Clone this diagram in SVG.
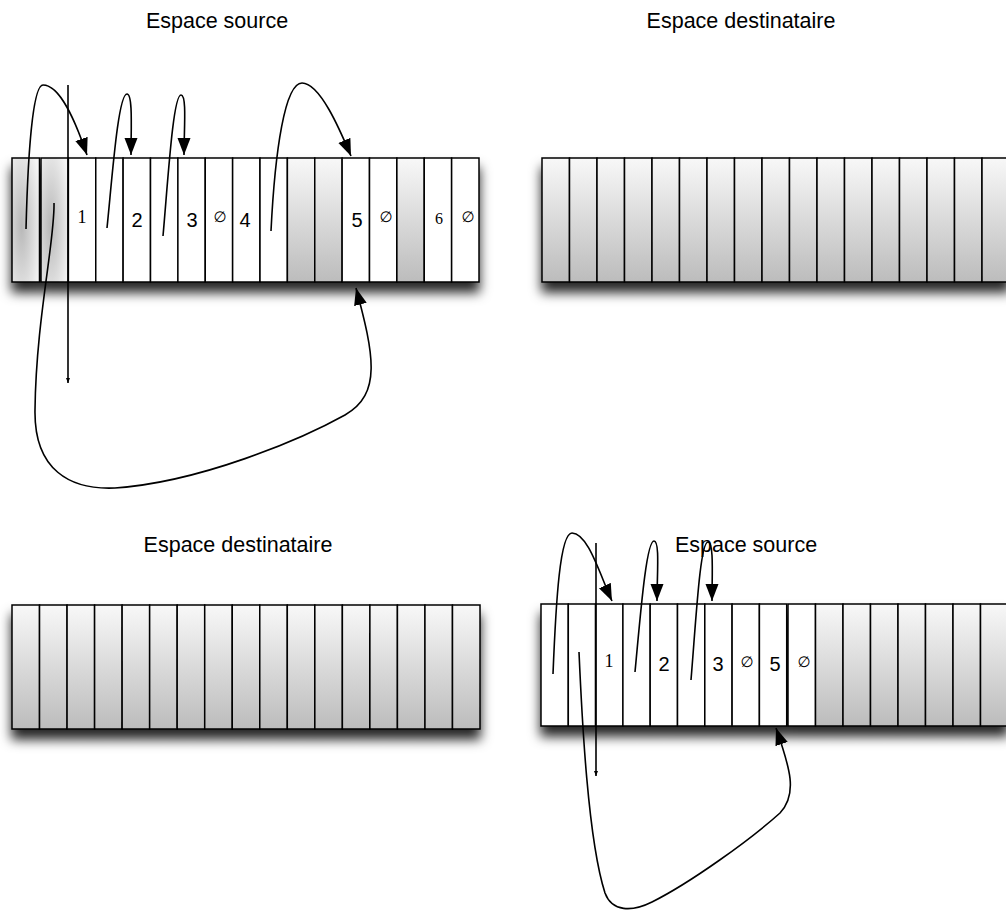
<svg xmlns="http://www.w3.org/2000/svg" width="1006" height="910" viewBox="0 0 1006 910">
<defs>
<style>
.cell{stroke:#000;stroke-width:1.5}
.w{fill:#fff}
.g{fill:url(#gr)}
.r{fill:url(#rad)}
.title{font-family:"Liberation Sans",Arial,sans-serif;font-size:21.5px;fill:#000;text-anchor:middle}
.num{font-family:"Liberation Sans",Arial,sans-serif;font-size:20px;fill:#000;text-anchor:middle}
.ser{font-family:"Liberation Serif","Times New Roman",serif;font-size:18px;fill:#000;text-anchor:middle}
.ser6{font-family:"Liberation Serif","Times New Roman",serif;font-size:16px;fill:#000;text-anchor:middle}
.emp{font-family:"DejaVu Sans",sans-serif;font-size:15px;fill:#000;text-anchor:middle}
.c{fill:none;stroke:#000;stroke-width:1.6}
</style>
<linearGradient id="gr" x1="0" y1="0" x2="0" y2="1">
<stop offset="0" stop-color="#f8f8f8"/>
<stop offset="1" stop-color="#bcbcbc"/>
</linearGradient>
<radialGradient id="rad" cx="0.35" cy="0.55" r="0.75">
<stop offset="0" stop-color="#b8b8b8"/>
<stop offset="1" stop-color="#f4f4f4"/>
</radialGradient>
<filter id="sh" x="-5%" y="-20%" width="110%" height="170%">
<feGaussianBlur in="SourceAlpha" stdDeviation="6"/>
<feOffset dy="10" result="b"/>
<feFlood flood-color="#000" flood-opacity="0.85"/>
<feComposite in2="b" operator="in"/>
<feMerge><feMergeNode/><feMergeNode in="SourceGraphic"/></feMerge>
</filter>
<marker id="ah" markerUnits="userSpaceOnUse" markerWidth="18" markerHeight="14" refX="17" refY="6.5" orient="auto">
<path d="M0,0 L17,6.5 L0,13 z" fill="#000"/>
</marker>
<marker id="as" markerUnits="userSpaceOnUse" markerWidth="6" markerHeight="5" refX="5" refY="2" orient="auto">
<path d="M0,0 L5,2 L0,4 z" fill="#000"/>
</marker>
</defs>
<rect width="1006" height="910" fill="#fff"/>

<g id="title-tl"><text class="title" x="217" y="28">Espace source</text></g>
<g id="title-tr"><text class="title" x="741" y="28">Espace destinataire</text></g>
<g id="title-bl"><text class="title" x="238" y="552">Espace destinataire</text></g>
<g id="title-br"><text class="title" x="746" y="552">Espace source</text></g>

<g id="array-tl" filter="url(#sh)">
<rect class="cell r" x="12" y="158" width="27.5" height="124"/>
<rect class="cell r" x="41" y="158" width="27.375" height="124"/>
<rect class="cell w" x="68.375" y="158" width="27.375" height="124"/>
<rect class="cell w" x="95.75" y="158" width="27.375" height="124"/>
<rect class="cell w" x="123.125" y="158" width="27.375" height="124"/>
<rect class="cell w" x="150.5" y="158" width="27.375" height="124"/>
<rect class="cell w" x="177.875" y="158" width="27.375" height="124"/>
<rect class="cell w" x="205.25" y="158" width="27.375" height="124"/>
<rect class="cell w" x="232.625" y="158" width="27.375" height="124"/>
<rect class="cell w" x="260" y="158" width="27.375" height="124"/>
<rect class="cell g" x="287.375" y="158" width="27.375" height="124"/>
<rect class="cell g" x="314.75" y="158" width="27.375" height="124"/>
<rect class="cell w" x="342.125" y="158" width="27.375" height="124"/>
<rect class="cell w" x="369.5" y="158" width="27.375" height="124"/>
<rect class="cell g" x="396.875" y="158" width="27.375" height="124"/>
<rect class="cell w" x="424.25" y="158" width="27.375" height="124"/>
<rect class="cell w" x="451.625" y="158" width="27.375" height="124"/>
</g>
<g id="labels-tl">
<text class="ser" x="82" y="223">1</text>
<text class="num" x="137" y="227">2</text>
<text class="num" x="192" y="227">3</text>
<text class="emp" x="220" y="222">∅</text>
<text class="num" x="245" y="227">4</text>
<text class="num" x="357" y="227">5</text>
<text class="emp" x="386" y="222">∅</text>
<text class="ser6" x="439" y="224">6</text>
<text class="emp" x="468" y="222">∅</text>
</g>

<g id="array-tr" filter="url(#sh)">
<rect class="cell g" x="542" y="158" width="27.5" height="124"/>
<rect class="cell g" x="569.5" y="158" width="27.5" height="124"/>
<rect class="cell g" x="597" y="158" width="27.5" height="124"/>
<rect class="cell g" x="624.5" y="158" width="27.5" height="124"/>
<rect class="cell g" x="652" y="158" width="27.5" height="124"/>
<rect class="cell g" x="679.5" y="158" width="27.5" height="124"/>
<rect class="cell g" x="707" y="158" width="27.5" height="124"/>
<rect class="cell g" x="734.5" y="158" width="27.5" height="124"/>
<rect class="cell g" x="762" y="158" width="27.5" height="124"/>
<rect class="cell g" x="789.5" y="158" width="27.5" height="124"/>
<rect class="cell g" x="817" y="158" width="27.5" height="124"/>
<rect class="cell g" x="844.5" y="158" width="27.5" height="124"/>
<rect class="cell g" x="872" y="158" width="27.5" height="124"/>
<rect class="cell g" x="899.5" y="158" width="27.5" height="124"/>
<rect class="cell g" x="927" y="158" width="27.5" height="124"/>
<rect class="cell g" x="954.5" y="158" width="27.5" height="124"/>
<rect class="cell g" x="982" y="158" width="27.5" height="124"/>
</g>

<g id="array-bl" filter="url(#sh)">
<rect class="cell g" x="12" y="605" width="27.53" height="124"/>
<rect class="cell g" x="39.53" y="605" width="27.53" height="124"/>
<rect class="cell g" x="67.06" y="605" width="27.53" height="124"/>
<rect class="cell g" x="94.59" y="605" width="27.53" height="124"/>
<rect class="cell g" x="122.12" y="605" width="27.53" height="124"/>
<rect class="cell g" x="149.65" y="605" width="27.53" height="124"/>
<rect class="cell g" x="177.18" y="605" width="27.53" height="124"/>
<rect class="cell g" x="204.71" y="605" width="27.53" height="124"/>
<rect class="cell g" x="232.24" y="605" width="27.53" height="124"/>
<rect class="cell g" x="259.77" y="605" width="27.53" height="124"/>
<rect class="cell g" x="287.3" y="605" width="27.53" height="124"/>
<rect class="cell g" x="314.83" y="605" width="27.53" height="124"/>
<rect class="cell g" x="342.36" y="605" width="27.53" height="124"/>
<rect class="cell g" x="369.89" y="605" width="27.53" height="124"/>
<rect class="cell g" x="397.42" y="605" width="27.53" height="124"/>
<rect class="cell g" x="424.95" y="605" width="27.53" height="124"/>
<rect class="cell g" x="452.48" y="605" width="27.53" height="124"/>
</g>

<g id="array-br" filter="url(#sh)">
<rect class="cell w" x="541" y="604" width="27.3" height="122"/>
<rect class="cell w" x="568.3" y="604" width="27.3" height="122"/>
<rect class="cell w" x="595.6" y="604" width="27.3" height="122"/>
<rect class="cell w" x="622.9" y="604" width="27.3" height="122"/>
<rect class="cell w" x="650.2" y="604" width="27.3" height="122"/>
<rect class="cell w" x="677.5" y="604" width="27.3" height="122"/>
<rect class="cell w" x="704.8" y="604" width="27.3" height="122"/>
<rect class="cell w" x="732.1" y="604" width="27.3" height="122"/>
<rect class="cell w" x="759.4" y="604" width="27.3" height="122"/>
<rect class="cell w" x="788" y="604" width="27.5" height="122"/>
<rect class="cell g" x="815.5" y="604" width="27.5" height="122"/>
<rect class="cell g" x="843" y="604" width="27.5" height="122"/>
<rect class="cell g" x="870.5" y="604" width="27.5" height="122"/>
<rect class="cell g" x="898" y="604" width="27.5" height="122"/>
<rect class="cell g" x="925.5" y="604" width="27.5" height="122"/>
<rect class="cell g" x="953" y="604" width="27.5" height="122"/>
<rect class="cell g" x="980.5" y="604" width="27.5" height="122"/>
</g>
<g id="labels-br">
<text class="ser" x="609" y="667">1</text>
<text class="num" x="664" y="671">2</text>
<text class="num" x="718" y="671">3</text>
<text class="emp" x="747" y="667">∅</text>
<text class="num" x="775" y="671">5</text>
<text class="emp" x="804" y="667">∅</text>
</g>

<g id="connectors">
<path class="c" marker-end="url(#ah)" d="M26,229 C28,150 33,85 43,85 C60,85 75,120 87,155"/>
<path class="c" marker-end="url(#ah)" d="M107,228 C112,180 118,94 127,94 C133,94 131,130 131,155"/>
<path class="c" marker-end="url(#ah)" d="M163,236 C168,180 173,95 181,95 C187,95 184,130 184,155"/>
<path class="c" marker-end="url(#ah)" d="M271,231 C275,150 285,83 302,83 C320,83 340,130 351,156"/>
<path class="c" marker-end="url(#as)" d="M68,85 L68,383"/>
<path class="c" marker-end="url(#ah)" d="M54,203 C55,240 36,320 35,410 C34,470 70,490 115,488 C200,482 300,440 345,415 C382,394 374,355 356,288"/>

<path class="c" marker-end="url(#ah)" d="M553,674 C556,600 560,533 572,533 C588,533 600,575 612,601"/>
<path class="c" marker-end="url(#ah)" d="M635,672 C640,620 646,541 654,541 C660,541 657,575 657,601"/>
<path class="c" marker-end="url(#ah)" d="M691,680 C696,620 700,542 708,542 C714,542 712,575 712,601"/>
<path class="c" marker-end="url(#as)" d="M596,543 L596,776"/>
<path class="c" marker-end="url(#ah)" d="M579,652 C582,720 588,840 605,893 C612,912 632,912 652,902 C690,883 750,840 780,813 C798,794 790,768 776,728"/>
</g>
</svg>
